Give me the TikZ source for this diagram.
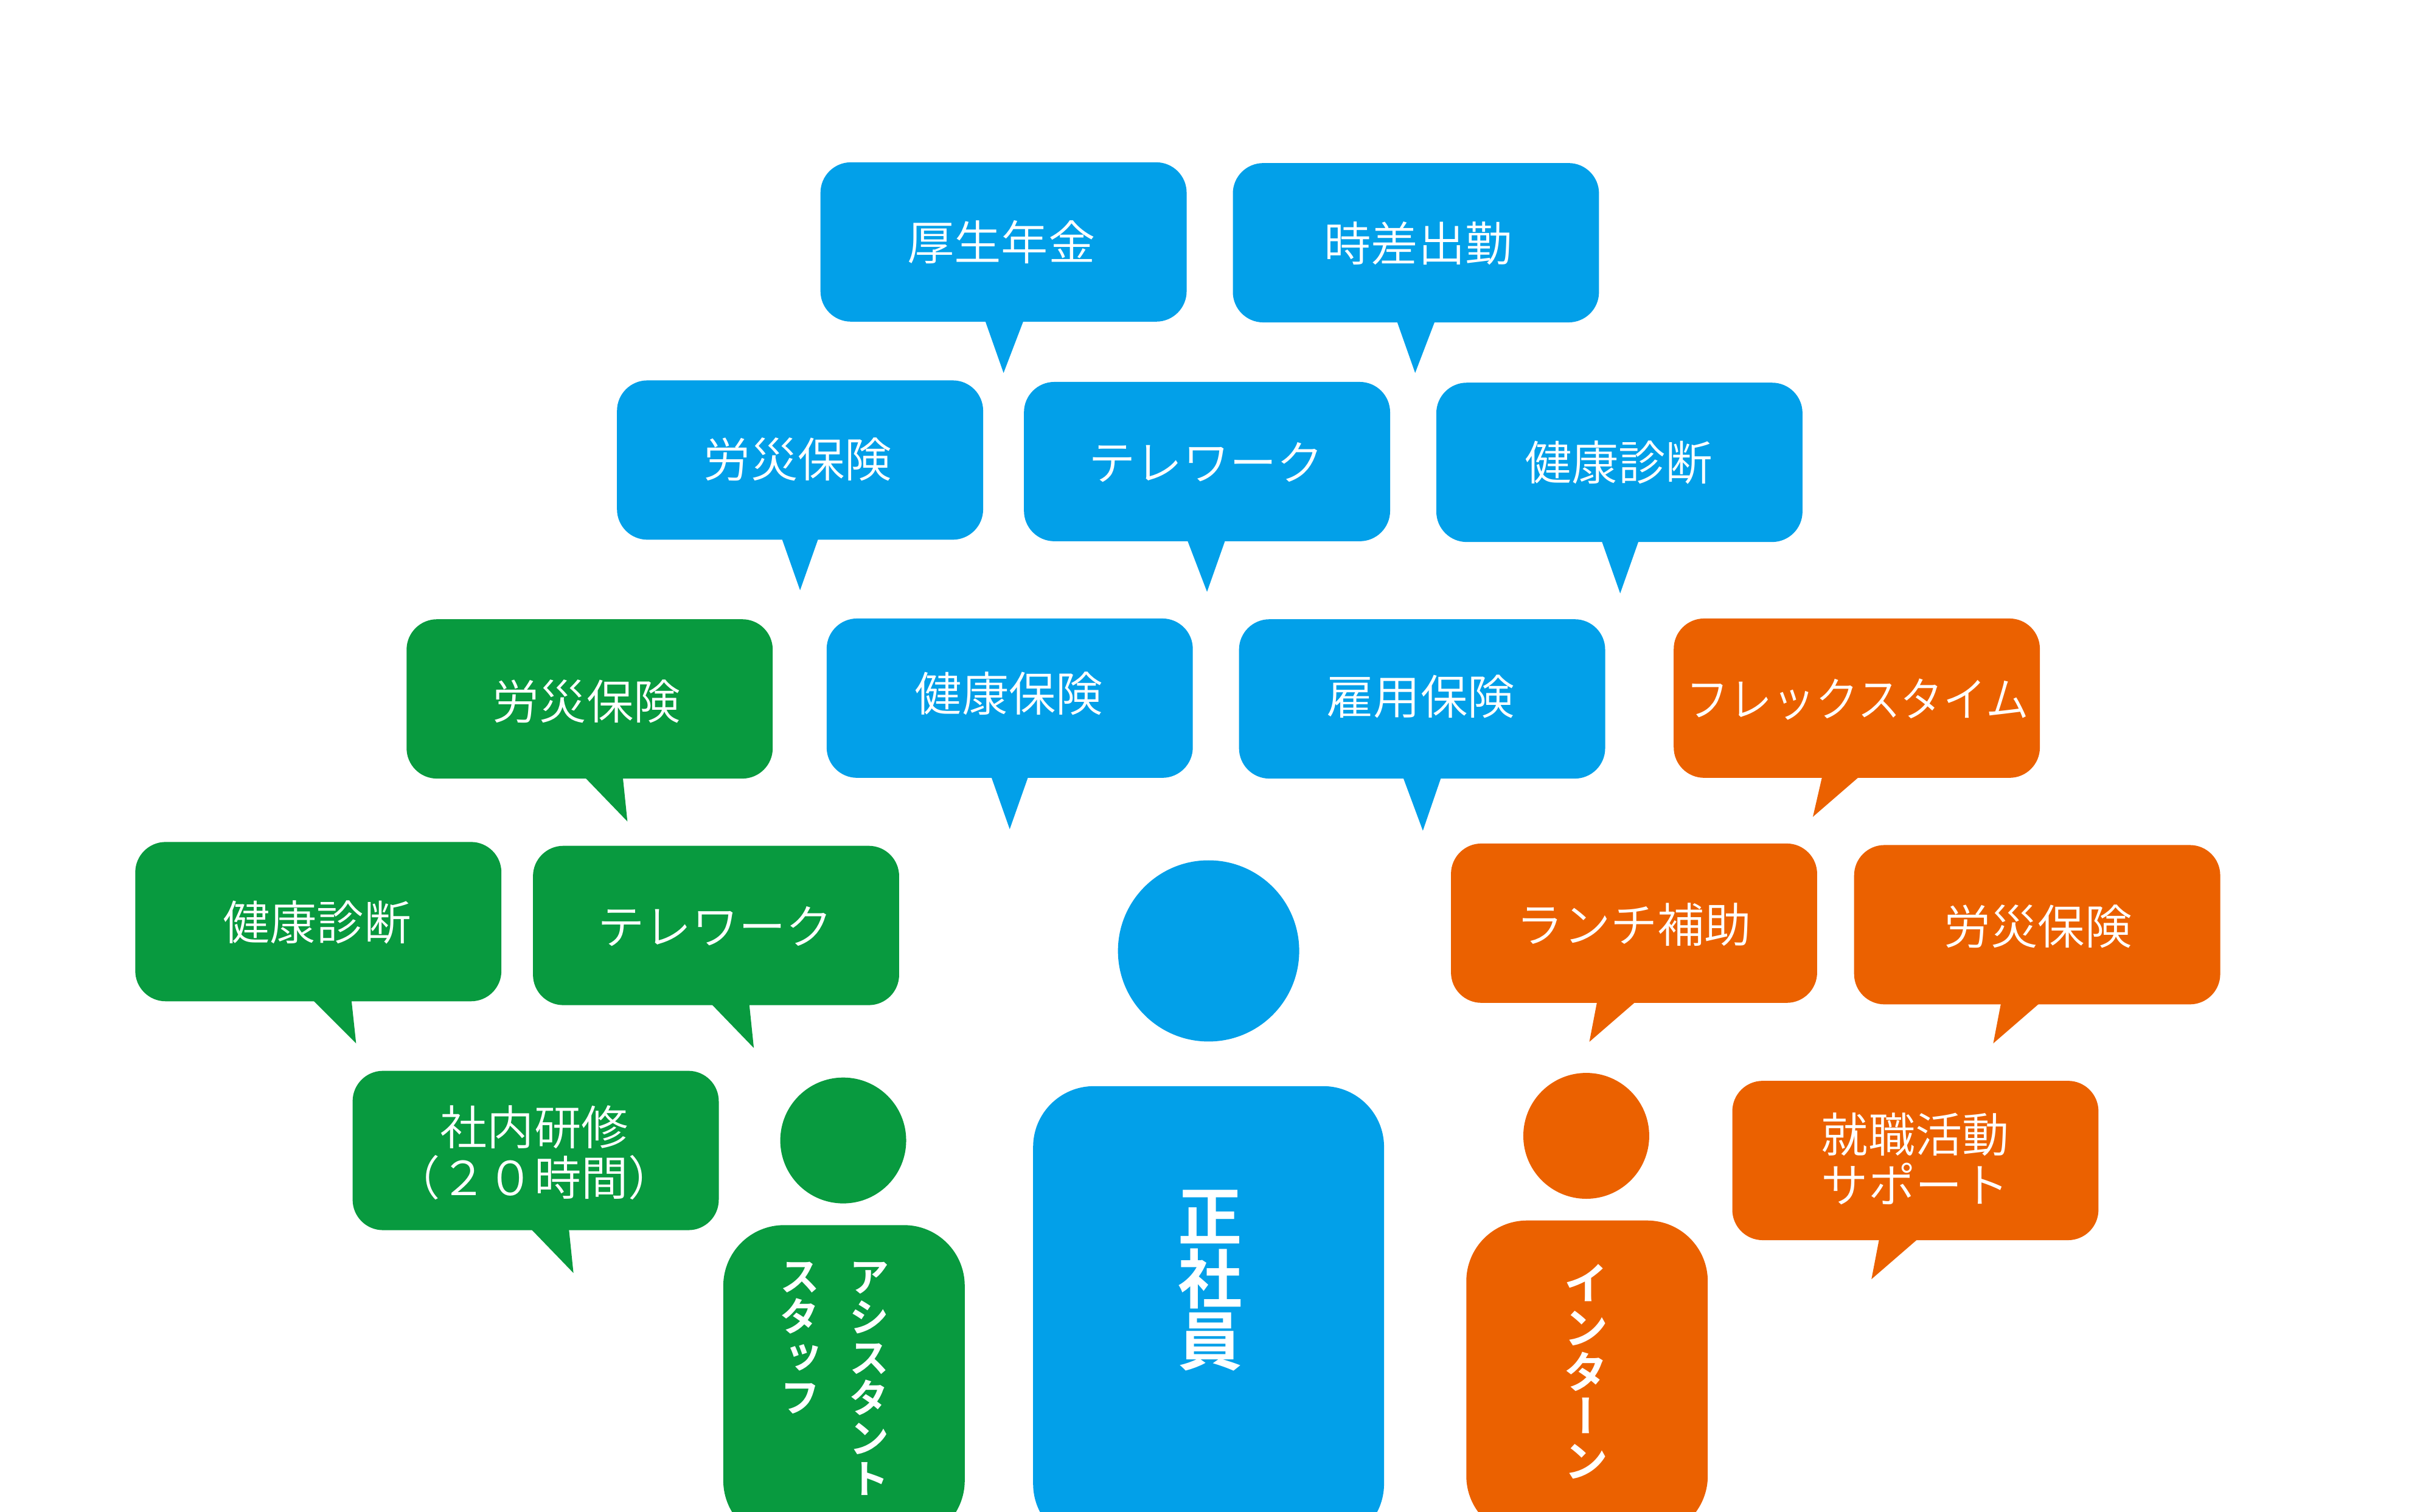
\documentclass[tikz,border=0pt]{standalone}
\usepackage{fontspec}
\usepackage{graphicx}
\setmainfont{Noto Sans CJK JP DemiLight}
\newfontfamily\vertfont[RawFeature=+vert]{Noto Sans CJK JP Bold}
\definecolor{sblue}{HTML}{02A0E9}
\definecolor{sgreen}{HTML}{089A3F}
\definecolor{sorange}{HTML}{EB6100}
\tikzset{
  bubble/.style={rectangle, rounded corners=0.5cm, minimum width=6.02cm, minimum height=2.62cm, inner sep=0pt},
  btext/.style={text=white, inner sep=0pt, align=center, font=\fontsize{22}{23.7}\selectfont},
  head/.style={circle, inner sep=0pt},
  body/.style={rectangle, rounded corners=1cm, inner sep=0pt},
  vtext/.style={text=white, inner sep=0pt, align=center, anchor=north}
}
\begin{document}
\begin{tikzpicture}[x=0.02534cm, y=-0.02534cm]
    \clip (0,0) rectangle (1567.9,980.7);
    % blue bubbles
    \node[bubble, fill=sblue] (nenkin) at (651,157) {};
    \node[btext] (nenkint) at (649.5,157) {厚生年金};
    \fill[sblue] (639,208) -- (651,242) -- (664,208) -- cycle;
    \node[bubble, fill=sblue] (jisa) at (918.5,157.5) {};
    \node[btext] (jisat) at (920,158) {時差出勤};
    \fill[sblue] (906,208) -- (918,242) -- (931,208) -- cycle;
    \node[bubble, fill=sblue] (rosaia) at (519,298.5) {};
    \node[btext] (rosaiat) at (517.5,298) {労災保険};
    \fill[sblue] (507,349) -- (519,383) -- (531,349) -- cycle;
    \node[bubble, fill=sblue] (telea) at (783,299.5) {};
    \node[btext] (teleat) at (782.5,300) {テレワーク};
    \fill[sblue] (770,350) -- (783,384) -- (795,350) -- cycle;
    \node[bubble, fill=sblue] (kenshina) at (1050.5,300) {};
    \node[btext] (kenshinat) at (1050,300) {健康診断};
    \fill[sblue] (1039,351) -- (1051,385) -- (1063,351) -- cycle;
    \node[bubble, fill=sblue] (kenko) at (655,453) {};
    \node[btext] (kenkot) at (654.5,450) {健康保険};
    \fill[sblue] (643,504) -- (655,538) -- (667,504) -- cycle;
    \node[bubble, fill=sblue] (koyo) at (922.5,453.5) {};
    \node[btext] (koyot) at (921.5,452) {雇用保険};
    \fill[sblue] (910,504) -- (923,539) -- (935,504) -- cycle;
    % green bubbles
    \node[bubble, fill=sgreen] (rosaib) at (382.5,453.5) {};
    \node[btext] (rosaibt) at (380.5,455) {労災保険};
    \fill[sgreen] (379,504) -- (407,533) -- (404,504) -- cycle;
    \node[bubble, fill=sgreen] (kenshinb) at (206.5,598) {};
    \node[btext] (kenshinbt) at (205.5,598.5) {健康診断};
    \fill[sgreen] (203,649) -- (231,677) -- (228,649) -- cycle;
    \node[bubble, fill=sgreen] (teleb) at (464.5,600.5) {};
    \node[btext] (telebt) at (464,601) {テレワーク};
    \fill[sgreen] (461,651) -- (489,680) -- (486,651) -- cycle;
    \node[bubble, fill=sgreen] (kenshu) at (347.5,746.5) {};
    \node[btext] (kenshut) at (346.5,748) {社内研修\\（２０時間）};
    \fill[sgreen] (344,797) -- (372,826) -- (369,797) -- cycle;
    % orange bubbles
    \node[bubble, fill=sorange] (flex) at (1204.5,453) {};
    \node[btext] (flext) at (1205,454) {\scalebox{0.917}[1]{フレックスタイム}};
    \fill[sorange] (1182,504) -- (1176,530) -- (1206,504) -- cycle;
    \node[bubble, fill=sorange] (lunch) at (1060,599) {};
    \node[btext] (luncht) at (1060,600) {ランチ補助};
    \fill[sorange] (1036,650) -- (1031,676) -- (1061,650) -- cycle;
    \node[bubble, fill=sorange] (rosaic) at (1321.5,600) {};
    \node[btext] (rosaict) at (1322,601) {労災保険};
    \fill[sorange] (1298,651) -- (1293,677) -- (1323,651) -- cycle;
    \node[bubble, fill=sorange] (shuka) at (1242.5,753) {};
    \node[btext] (shukat) at (1242.5,752) {就職活動\\サポート};
    \fill[sorange] (1219,804) -- (1214,830) -- (1244,804) -- cycle;
    % people
    \node[head, fill=sblue, minimum size=2.98cm] (seihead) at (784,617) {};
    \node[body, fill=sblue, minimum width=5.77cm, minimum height=7.54cm] (seibody) at (784,853.5) {};
    \node[vtext, font=\vertfont\fontsize{30}{29.2}\selectfont] (seitext) at (785,772) {正\\社\\員};
    \node[head, fill=sgreen, minimum size=2.07cm] (ashead) at (547,740) {};
    \node[body, fill=sgreen, minimum width=3.97cm, minimum height=5.2cm] (asbody) at (547.5,897.5) {};
    \node[vtext, font=\vertfont\fontsize{19}{18.9}\selectfont] (astexta) at (564,818.5) {ア\\シ\\ス\\タ\\ン\\ト};
    \node[vtext, font=\vertfont\fontsize{19}{18.9}\selectfont] (astextb) at (519,818.5) {ス\\タ\\ッ\\フ};
    \node[head, fill=sorange, minimum size=2.07cm] (inhead) at (1029,737) {};
    \node[body, fill=sorange, minimum width=3.97cm, minimum height=5.2cm] (inbody) at (1029.5,894.5) {};
    \node[vtext, font=\vertfont\fontsize{21}{20.8}\selectfont] (intext) at (1029,820) {イ\\ン\\タ\\ー\\ン};
\end{tikzpicture}
\end{document}
